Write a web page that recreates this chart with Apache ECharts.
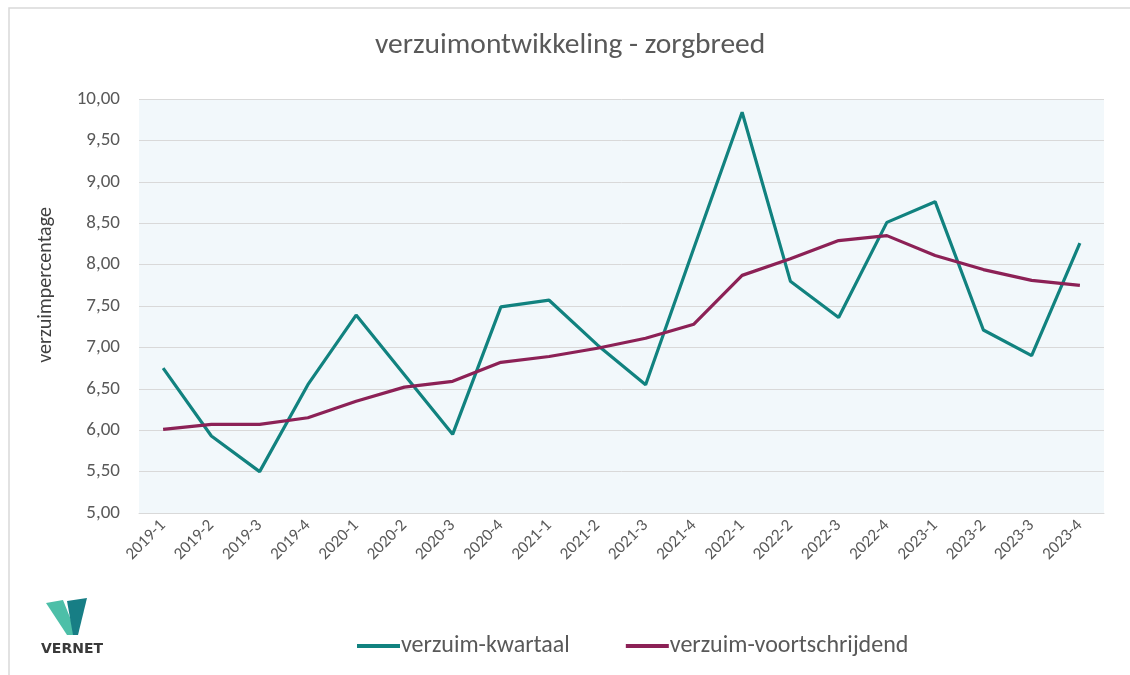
<!DOCTYPE html>
<html>
<head>
<meta charset="utf-8">
<script src="https://cdn.jsdelivr.net/npm/echarts@6/dist/echarts.min.js"></script>
<style>
html,body{margin:0;padding:0;background:#fff;}
#main{width:1130px;height:675px;}
</style>
</head>
<body>
<div id="main"></div>
<script>
const categories = ['2019-1','2019-2','2019-3','2019-4','2020-1','2020-2','2020-3','2020-4','2021-1','2021-2','2021-3','2021-4','2022-1','2022-2','2022-3','2022-4','2023-1','2023-2','2023-3','2023-4'];
const kwartaal = [6.75,5.93,5.50,6.55,7.39,6.67,5.95,7.49,7.57,7.03,6.55,8.20,9.84,7.80,7.36,8.51,8.76,7.21,6.90,8.26];
const voortschrijdend = [6.01,6.07,6.07,6.15,6.35,6.52,6.59,6.82,6.89,6.99,7.11,7.28,7.87,8.07,8.29,8.35,8.11,7.94,7.81,7.75];
const seriesNames = ['verzuim-kwartaal','verzuim-voortschrijdend'];
const yTicks = {min:5, max:10, interval:0.5};

const FONT = 'Carlito, Lato, "Open Sans", sans-serif';
const chart = echarts.init(document.getElementById('main'));
chart.setOption({
  backgroundColor:'#ffffff',
  animation:false,
  textStyle:{fontFamily:FONT},
  title:{
    text:'verzuimontwikkeling - zorgbreed',
    left:370, top:26,
    textStyle:{fontFamily:FONT,fontSize:29.5,fontWeight:'normal',color:'#595959'}
  },
  grid:{left:139,right:26,top:99,bottom:162,show:true,backgroundColor:'#F2F8FB',borderWidth:0},
  legend:{
    left:352, top:629,
    itemWidth:43, itemHeight:4, itemGap:56,
    icon:'rect',
    textStyle:{fontFamily:FONT,fontSize:24,color:'#595959',padding:[0,0,0,-4]},
    data:seriesNames
  },
  xAxis:{
    type:'category', data:categories, boundaryGap:true,
    axisLine:{show:true,lineStyle:{color:'#D9D9D9',width:1}},
    axisTick:{show:false},
    axisLabel:{rotate:45,interval:0,fontFamily:FONT,fontSize:17,color:'#595959',margin:10}
  },
  yAxis:{
    type:'value', min:yTicks.min, max:yTicks.max, interval:yTicks.interval,
    axisLine:{show:false}, axisTick:{show:false},
    splitLine:{lineStyle:{color:'#D9D9D9',width:1}},
    axisLabel:{fontFamily:FONT,fontSize:19,color:'#595959',margin:19,
      formatter:v=>v.toFixed(2).replace('.',',')}
  },
  graphic:[
    {type:'rect',shape:{x:9,y:8,width:1200,height:700},style:{fill:'none',stroke:'#D9D9D9',lineWidth:1.5},silent:true,z:-1},
    {type:'text',x:46,y:285,rotation:Math.PI/2,style:{text:'verzuimpercentage',fill:'#404040',font:'20px '+FONT,textAlign:'center',textVerticalAlign:'middle'}},
    {type:'polygon',shape:{points:[[46,603],[63,600],[77,635],[67,635]]},style:{fill:'#4DBFA8'}},
    {type:'polygon',shape:{points:[[67,601],[87,598],[78,635],[73,635]]},style:{fill:'#177E85'}},
    {type:'text',x:72,y:649,style:{text:'VERNET',fill:'#3A3A3A',font:'bold 14px "DejaVu Sans", sans-serif',textAlign:'center',textVerticalAlign:'middle'}}
  ],
  series:[
    {name:seriesNames[0],type:'line',data:kwartaal,symbol:'none',lineStyle:{color:'#11827F',width:3.2},itemStyle:{color:'#11827F'}},
    {name:seriesNames[1],type:'line',data:voortschrijdend,symbol:'none',lineStyle:{color:'#8C2156',width:3.2},itemStyle:{color:'#8C2156'}}
  ]
});
</script>
</body>
</html>
